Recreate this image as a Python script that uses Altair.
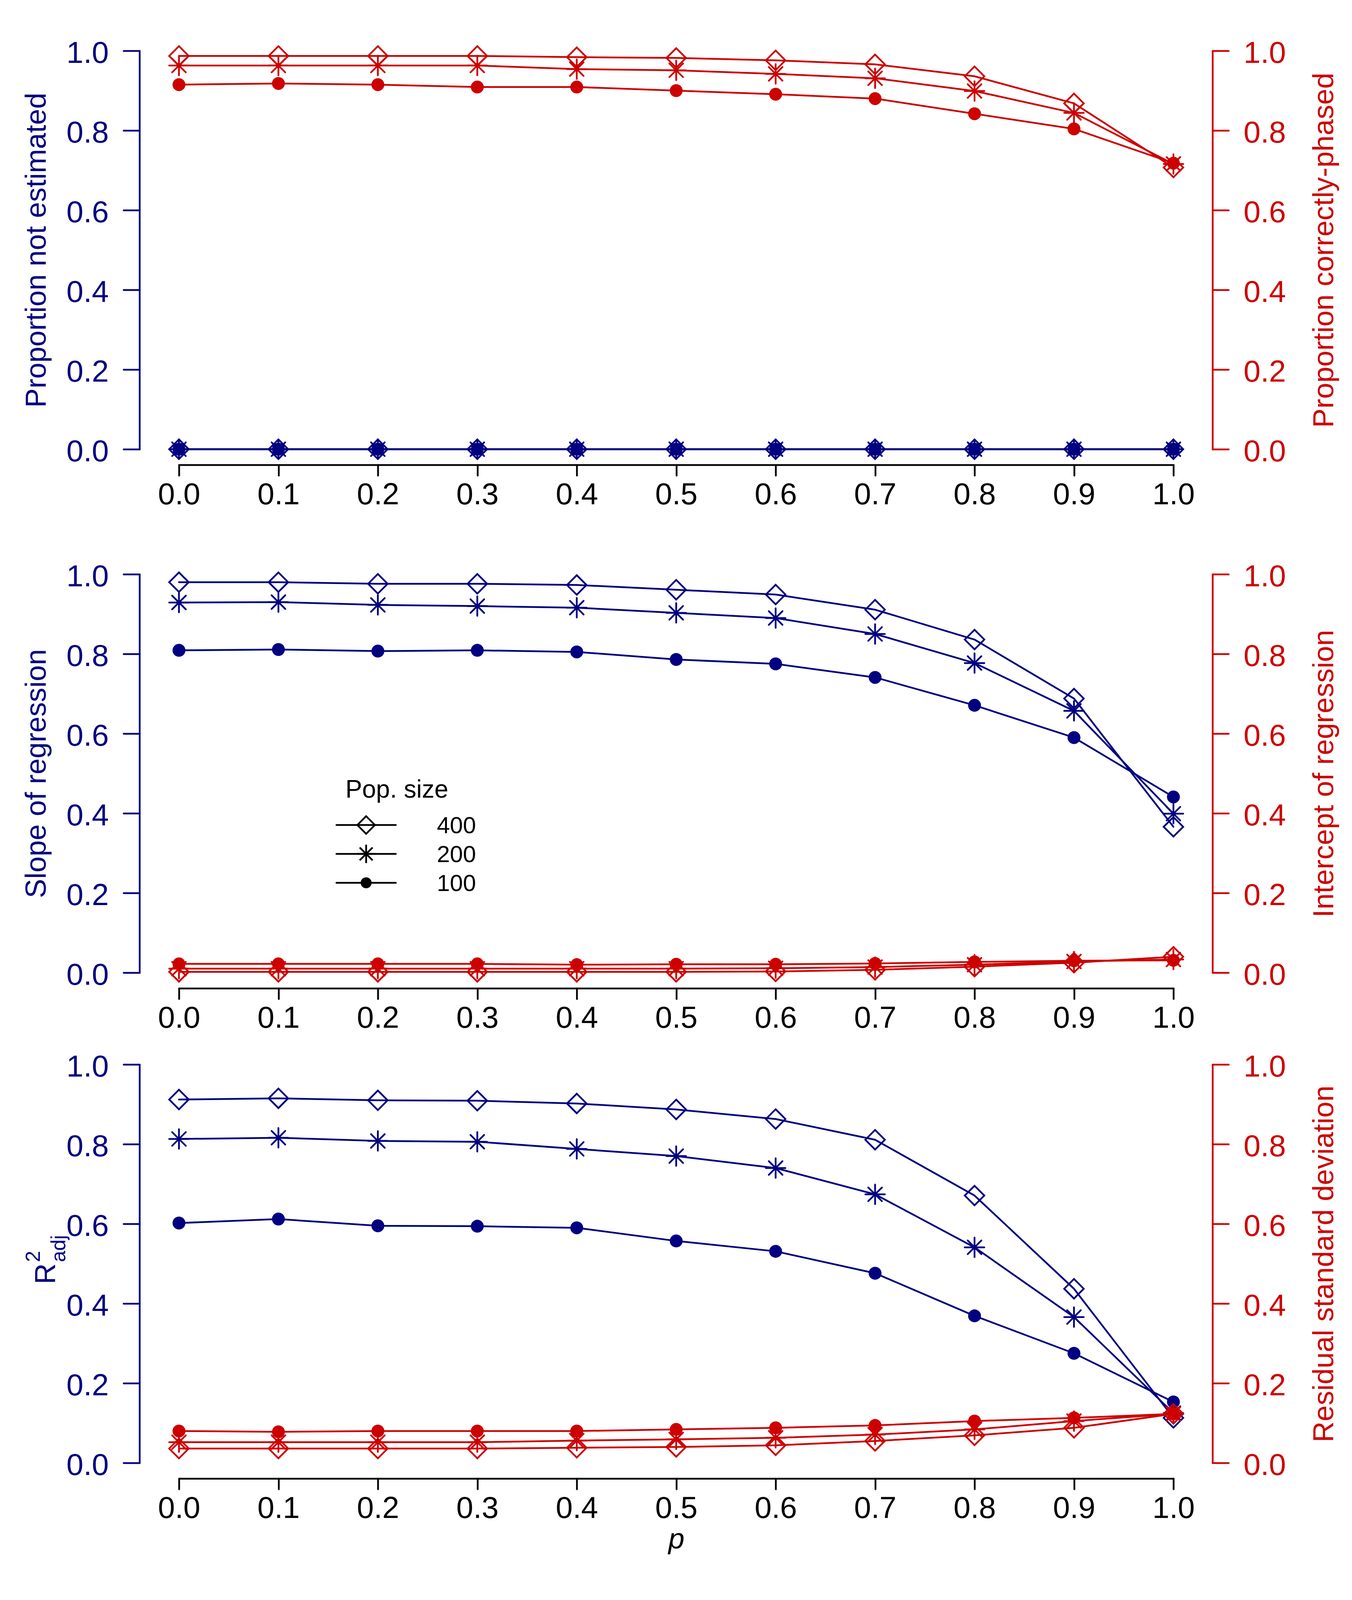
import altair as alt
import pandas as pd

# ---------------- data ----------------
P = [0.0, 0.1, 0.2, 0.3, 0.4, 0.5, 0.6, 0.7, 0.8, 0.9, 1.0]
POP = ["400", "200", "100"]
Y_TICKS = [0.0, 0.2, 0.4, 0.6, 0.8, 1.0]

# panel 1
not_est_400 = [0.0, 0.0, 0.0, 0.0, 0.0, 0.0, 0.0, 0.0, 0.0, 0.0, 0.0]
not_est_200 = [0.0, 0.0, 0.0, 0.0, 0.0, 0.0, 0.0, 0.0, 0.0, 0.0, 0.0]
not_est_100 = [0.0, 0.0, 0.0, 0.0, 0.0, 0.0, 0.0, 0.0, 0.0, 0.0, 0.0]
phased_400 = [0.987, 0.987, 0.987, 0.987, 0.984, 0.982, 0.976, 0.966, 0.936, 0.868, 0.707]
phased_200 = [0.963, 0.963, 0.963, 0.963, 0.954, 0.951, 0.942, 0.931, 0.899, 0.844, 0.716]
phased_100 = [0.915, 0.918, 0.915, 0.909, 0.909, 0.900, 0.891, 0.880, 0.842, 0.804, 0.718]

# panel 2
slope_400 = [0.980, 0.980, 0.976, 0.976, 0.973, 0.961, 0.949, 0.911, 0.836, 0.688, 0.366]
slope_200 = [0.929, 0.930, 0.923, 0.920, 0.916, 0.903, 0.890, 0.850, 0.777, 0.657, 0.399]
slope_100 = [0.809, 0.811, 0.807, 0.809, 0.805, 0.786, 0.775, 0.741, 0.671, 0.590, 0.441]
intercept_400 = [0.002, 0.002, 0.002, 0.002, 0.002, 0.002, 0.003, 0.007, 0.015, 0.025, 0.040]
intercept_200 = [0.010, 0.010, 0.010, 0.010, 0.010, 0.010, 0.011, 0.014, 0.020, 0.028, 0.033]
intercept_100 = [0.022, 0.022, 0.022, 0.022, 0.020, 0.021, 0.021, 0.023, 0.027, 0.030, 0.031]

# panel 3
r2_400 = [0.912, 0.915, 0.910, 0.909, 0.902, 0.887, 0.863, 0.811, 0.671, 0.437, 0.113]
r2_200 = [0.813, 0.816, 0.808, 0.806, 0.788, 0.770, 0.740, 0.674, 0.541, 0.366, 0.125]
r2_100 = [0.602, 0.612, 0.595, 0.594, 0.590, 0.557, 0.531, 0.476, 0.369, 0.275, 0.153]
rsd_400 = [0.036, 0.036, 0.036, 0.036, 0.038, 0.040, 0.044, 0.055, 0.069, 0.088, 0.123]
rsd_200 = [0.052, 0.052, 0.052, 0.052, 0.056, 0.059, 0.063, 0.071, 0.084, 0.105, 0.123]
rsd_100 = [0.080, 0.078, 0.080, 0.080, 0.080, 0.084, 0.088, 0.094, 0.105, 0.113, 0.123]

LEFT_TITLES = ["Proportion not estimated", "Slope of regression", "R"]
RIGHT_TITLES = ["Proportion correctly-phased", "Intercept of regression",
                "Residual standard deviation"]
LEGEND_TITLE = "Pop. size"
R2_SUP, R2_SUB = "2", "adj"
X_TITLE = "p"

# ---------------- style / layout ----------------
NAVY = "#000080"
RED = "#CD0000"
FONT = "Liberation Sans"
W, H = 2545, 1020               # one panel's plot area (data 0..1)
TOPS = [0, 1340, 2595]          # panel tops inside the single view
HT = TOPS[2] + H                # total view height
LW = 4.5
TICK_FS, TITLE_FS, LEG_FS, SUB_FS = 78, 74, 60, 52
ASTERISK = "M0,-1L0,1M-1,0L1,0M-0.7,-0.7L0.7,0.7M-0.7,0.7L0.7,-0.7"
SHAPES = {"400": ("diamond", False), "200": (ASTERISK, False), "100": ("circle", True)}
PLOT_SIZE = {"400": 2500, "200": 2500, "100": 1089}
LEG_SIZE = {"400": 2025, "200": 2209, "100": 784}


def long_df(series):
    rows = []
    for pop, vals in zip(POP, series):
        for p, v in zip(P, vals):
            rows.append({"p": p, "v": v, "pop": pop})
    return pd.DataFrame(rows)


X_SCALE = alt.Scale(domain=[0, 1], nice=False, zero=False)


def x_enc(k, show_axis=True):
    if not show_axis:
        return alt.X("p:Q", scale=X_SCALE, axis=None)
    kw = dict(
        orient="bottom", offset=TOPS[k] + H + 40 - HT, values=P, format=".1f",
        grid=False, tickSize=27, tickWidth=LW, tickColor="black", tickCap="round",
        domainColor="black", domainWidth=LW, domainCap="round",
        labelFont=FONT, labelFontSize=TICK_FS, labelColor="black",
        labelPadding=73, labelBaseline="alphabetic",
        labelFlush=False, labelOverlap=False,
    )
    if k == 2:
        kw.update(title=X_TITLE, titleFont=FONT, titleFontSize=TITLE_FS,
                  titleFontStyle="italic", titleFontWeight="normal",
                  titleColor="black", titleX=W / 2, titleY=178,
                  titleAlign="center", titleBaseline="alphabetic")
    else:
        kw["title"] = None
    return alt.X("p:Q", scale=X_SCALE, axis=alt.Axis(**kw))


def y_enc(side, k, title, title_x, title_dy=H / 2, title_align="center"):
    color = NAVY if side == "left" else RED
    ax = alt.Axis(
        orient=side, offset=101 if side == "left" else 100, values=Y_TICKS,
        format=".1f", grid=False,
        tickSize=41, tickWidth=LW, tickColor=color, tickCap="round",
        domainColor=color, domainWidth=LW, domainCap="round",
        labelFont=FONT, labelFontSize=TICK_FS, labelColor=color,
        labelPadding=38, labelBaseline="alphabetic", labelOffset=30,
        labelFlush=False, labelOverlap=False,
        title=title, titleFont=FONT, titleFontSize=TITLE_FS, titleFontWeight="normal",
        titleColor=color, titleAngle=270, titleX=title_x, titleY=TOPS[k] + title_dy,
        titleAlign=title_align, titleBaseline="alphabetic",
    )
    sc = alt.Scale(domain=[0, 1], nice=False, zero=False, range=[TOPS[k] + H, TOPS[k]])
    return alt.Y("v:Q", scale=sc, axis=ax)


def side_layers(df, color, xe, ye):
    base = alt.Chart(df).encode(x=xe, y=ye)
    layers = [base.mark_line(color=color, strokeWidth=LW, strokeCap="round",
                             strokeJoin="round").encode(detail="pop:N")]
    for pop in POP:
        shape, filled = SHAPES[pop]
        layers.append(
            base.transform_filter(alt.datum.pop == pop).mark_point(
                shape=shape, size=PLOT_SIZE[pop], filled=filled, color=color,
                strokeWidth=LW, opacity=1, strokeCap="round")
        )
    return layers


def legend_layers(k):
    t0 = TOPS[k]
    out = [alt.Chart(pd.DataFrame({"t": [LEGEND_TITLE]})).mark_text(
        font=FONT, fontSize=LEG_FS + 4, align="left", baseline="alphabetic", color="black"
    ).encode(text="t:N", x=alt.value(426), y=alt.value(t0 + 572))]
    for i, pop in enumerate(POP):
        y = t0 + 642 + i * 74
        df = pd.DataFrame({"pop": [pop]})
        shape, filled = SHAPES[pop]
        out.append(alt.Chart(df).mark_rule(color="black", strokeWidth=LW, strokeCap="round")
                   .encode(x=alt.value(403), x2=alt.value(555), y=alt.value(y)))
        out.append(alt.Chart(df).mark_point(shape=shape, size=LEG_SIZE[pop], filled=filled,
                                            color="black", strokeWidth=LW, opacity=1)
                   .encode(x=alt.value(479), y=alt.value(y)))
        out.append(alt.Chart(df).mark_text(font=FONT, fontSize=LEG_FS, align="right",
                                           baseline="alphabetic", color="black")
                   .encode(text="pop:N", x=alt.value(760), y=alt.value(y + 21)))
    return out


def r2_parts(k):
    t0 = TOPS[k]
    out = []
    for txt, x, y in [(R2_SUP, -356, 506), (R2_SUB, -291, 506)]:
        out.append(alt.Chart(pd.DataFrame({"t": [txt]})).mark_text(
            font=FONT, fontSize=SUB_FS, angle=270, align="left", baseline="alphabetic",
            color=NAVY).encode(text="t:N", x=alt.value(x), y=alt.value(t0 + y)))
    return out


def panel_pair(k, blue, red, extra=(), left_kw=None):
    left_kw = left_kw or {}
    yl = y_enc("left", k, LEFT_TITLES[k], left_kw.get("x", -241),
               left_kw.get("dy", H / 2), left_kw.get("align", "center"))
    yr = y_enc("right", k, RIGHT_TITLES[k], 308)
    bl = alt.layer(*side_layers(long_df(blue), NAVY, x_enc(k), yl), *extra)
    rl = alt.layer(*side_layers(long_df(red), RED, x_enc(k, False), yr))
    return [bl, rl]


layers = []
layers += panel_pair(0, [not_est_400, not_est_200, not_est_100],
                     [phased_400, phased_200, phased_100])
layers += panel_pair(1, [slope_400, slope_200, slope_100],
                     [intercept_400, intercept_200, intercept_100],
                     extra=legend_layers(1))
layers += panel_pair(2, [r2_400, r2_200, r2_100],
                     [rsd_400, rsd_200, rsd_100],
                     extra=r2_parts(2),
                     left_kw={"x": -217, "dy": 562, "align": "left"})

chart = (
    alt.layer(*layers)
    .resolve_scale(y="independent")
    .resolve_axis(x="independent", y="independent")
    .properties(
        width=W, height=HT,
        padding={"left": 48, "top": 90, "right": 10, "bottom": 10},
        background="white",
    )
    .configure_view(stroke=None)
)

chart.save("out.html", embed_options={"renderer": "svg", "actions": False})
